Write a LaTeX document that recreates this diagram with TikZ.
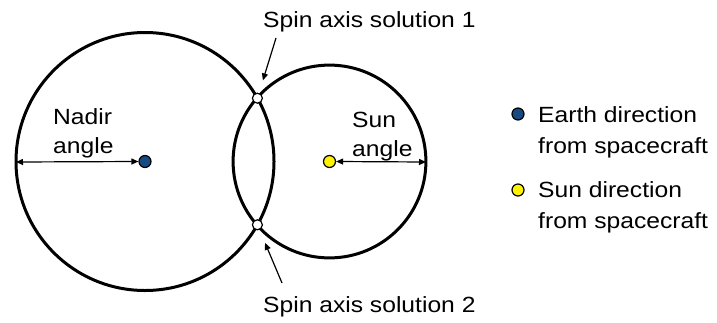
\documentclass[tikz,border=0pt]{standalone}
\usepackage{fontspec}
\setmainfont[FakeStretch=1.12]{Liberation Sans}
\usetikzlibrary{arrows.meta, positioning}
\definecolor{earthblue}{RGB}{22,74,130}

\begin{document}
\begin{tikzpicture}[
    x=1pt, y=-1pt,
    ring/.style={draw, line width=3pt},
    dot/.style={circle, draw, line width=1.2pt, minimum size=12pt, inner sep=0pt},
    solmark/.style={circle, draw, fill=white, line width=1.2pt,
                    minimum size=10pt, inner sep=0pt},
    lbl/.style={align=left, inner sep=0pt, font=\fontsize{22}{29}\selectfont},
    leg/.style={align=left, inner sep=0pt, font=\fontsize{22}{31}\selectfont},
    dim/.style={{Triangle[length=7pt,width=6pt]}-{Triangle[length=7pt,width=6pt]},
                line width=1.2pt},
    pointer/.style={-{Triangle[length=7pt,width=6pt]}, line width=1.2pt},
  ]
    \useasboundingbox (0,0) rectangle (717,322);

    % the two cones, seen from the spacecraft
    \coordinate (earth) at (145,161.5);
    \coordinate (sun) at (329.5,161.5);
    \draw[ring] (earth) circle[radius=129pt];
    \draw[ring] (sun) circle[radius=96.4pt];

    \node[dot, fill=earthblue] (earthdot) at (earth) {};
    \node[dot, fill=yellow] (sundot) at (sun) {};

    \node[solmark] (sol1) at (257.4,98.2) {};
    \node[solmark] (sol2) at (257.4,224.8) {};

    % cone half angles
    \coordinate (nadirend) at (16,162);
    \coordinate (sunend) at (426,162);
    \draw[dim] (nadirend) -- (earthdot.west);
    \draw[dim] (sundot.east) -- (sunend);

    % base of a two-line node is its last line
    \node[lbl, anchor=base west] (nadirlbl) at (53,153) {Nadir\\angle};
    \node[lbl, anchor=base west] (sunlbl) at (352,156) {Sun\\angle};

    % the two solutions
    \node[lbl, anchor=base west] (sollbl1) at (263,27) {Spin axis solution 1};
    \node[lbl, anchor=base west] (sollbl2) at (263,312) {Spin axis solution 2};
    \coordinate (tail1) at (276,38);
    \coordinate (tail2) at (282,283);
    \draw[pointer, shorten >=13pt] (tail1) -- (sol1);
    \draw[pointer, shorten >=14pt] (tail2) -- (sol2);

    % legend
    \node[dot, fill=earthblue] (legearth) at (518,114) {};
    \node[dot, fill=yellow] (legsun) at (518,190) {};
    \node[leg, anchor=base west] (legearthtxt) at (538,153) {Earth direction\\from spacecraft};
    \node[leg, anchor=base west] (legsuntxt) at (538,228) {Sun direction\\from spacecraft};
  \end{tikzpicture}
\end{document}
